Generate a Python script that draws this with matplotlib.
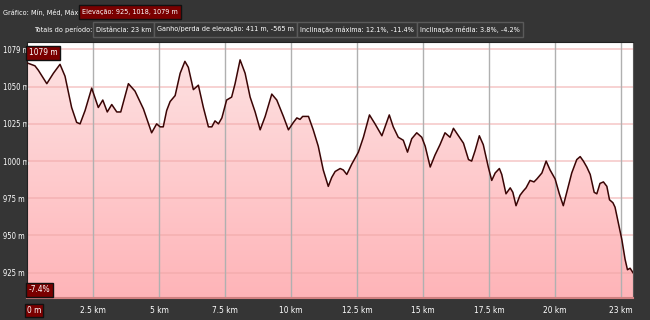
import matplotlib.pyplot as plt
import numpy as np
from matplotlib.patches import Rectangle
from matplotlib.colors import LinearSegmentedColormap

# perfil de elevação (km, m)
dist_km = [0.0, 0.30, 0.43, 0.75, 1.00, 1.25, 1.44, 1.69, 1.88, 2.01, 2.20, 2.45, 2.70, 2.87,
           3.04, 3.21, 3.40, 3.55, 3.84, 4.09, 4.41, 4.72, 4.91, 5.04, 5.16, 5.29, 5.42, 5.61,
           5.80, 5.98, 6.11, 6.30, 6.49, 6.68, 6.87, 7.00, 7.12, 7.25, 7.38, 7.56, 7.75, 7.88,
           8.07, 8.26, 8.45, 8.64, 8.83, 9.02, 9.27, 9.46, 9.71, 9.90, 10.09, 10.22, 10.34,
           10.44, 10.66, 10.84, 11.03, 11.22, 11.41, 11.54, 11.67, 11.86, 11.98, 12.11, 12.30,
           12.55, 12.74, 12.97, 13.18, 13.44, 13.56, 13.72, 13.87, 14.06, 14.25, 14.41, 14.57,
           14.76, 14.95, 15.08, 15.27, 15.45, 15.64, 15.83, 16.02, 16.15, 16.34, 16.53, 16.72,
           16.84, 16.97, 17.13, 17.28, 17.47, 17.60, 17.73, 17.89, 17.98, 18.14, 18.30, 18.40,
           18.52, 18.67, 18.80, 18.90, 19.05, 19.20, 19.31, 19.50, 19.66, 19.81, 20.00, 20.16,
           20.31, 20.44, 20.63, 20.82, 20.95, 21.07, 21.20, 21.33, 21.48, 21.58, 21.70, 21.83,
           21.96, 22.06, 22.19, 22.27, 22.40, 22.53, 22.65, 22.74, 22.84, 22.95]
elev_m = [1066, 1064, 1061, 1052, 1059, 1065, 1057, 1036, 1026, 1025, 1034, 1049, 1036, 1041,
          1033, 1038, 1033, 1033, 1052, 1047, 1035, 1019, 1025, 1023, 1023, 1034, 1040, 1044,
          1059, 1067, 1063, 1048, 1051, 1036, 1023, 1023, 1027, 1025, 1029, 1041, 1043, 1052,
          1068, 1059, 1043, 1033, 1021, 1030, 1045, 1041, 1030, 1021, 1026, 1029, 1028,
          1030, 1030, 1021, 1010, 994, 983, 989, 993, 995, 994, 991, 998,
          1006, 1016, 1031, 1025, 1017, 1023, 1031, 1023, 1016, 1014, 1006, 1015,
          1019, 1016, 1010, 996, 1004, 1011, 1019, 1016, 1022, 1017, 1012, 1001,
          1000, 1007, 1017, 1011, 996, 987, 992, 995, 991, 978, 982, 979,
          970, 977, 980, 982, 987, 986, 988, 992, 1000, 994, 988, 978,
          970, 979, 992, 1001, 1003, 1000, 996, 991, 979, 978, 985, 986,
          983, 974, 972, 969, 958, 947, 934, 927, 928, 925]

x_ticks = [0, 2.5, 5, 7.5, 10, 12.5, 15, 17.5, 20, 22.5]
x_labels = ['0 m', '2.5 km', '5 km', '7.5 km', '10 km', '12.5 km', '15 km', '17.5 km', '20 km', '23 km']
y_ticks = [925, 950, 975, 1000, 1025, 1050, 1075]
y_labels = ['925 m', '950 m', '975 m', '1000 m', '1025 m', '1050 m', '1079 m']

linha1 = ('Gráfico: Mín, Méd, Máx', ['Elevação: 925, 1018, 1079 m'])
linha2 = ('Totais do período:', ['Distância: 23 km', 'Ganho/perda de elevação: 411 m, -565 m',
                                 'Inclinação máxima: 12.1%, -11.4%', 'Inclinação média: 3.8%, -4.2%'])

plt.rcParams['font.family'] = ['DejaVu Sans']
plt.rcParams['font.stretch'] = 'condensed'

W, H = 650, 320
BG = '#353535'
RED = '#7a0000'
FS = 5.2

fig = plt.figure(figsize=(6.5, 3.2), dpi=100, facecolor=BG)
renderer = fig.canvas.get_renderer()


def px(x, y):
    return x / W, 1 - y / H


def linha_cabecalho(x_fim_rotulo, y0, y1, rotulo, textos, primeira_vermelha=False):
    yc = (y0 + y1) / 2
    fig.text(*px(x_fim_rotulo, yc), rotulo, color='white', fontsize=FS, va='center', ha='right')
    x = x_fim_rotulo + 1
    for i, texto in enumerate(textos):
        t = fig.text(*px(x + 3, yc), texto, color='white', fontsize=FS, va='center', ha='left',
                     zorder=3)
        w = t.get_window_extent(renderer).width
        vermelha = primeira_vermelha and i == 0
        r = Rectangle(px(x, y1), (w + 6) / W, (y1 - y0) / H, transform=fig.transFigure,
                      facecolor=RED if vermelha else BG,
                      edgecolor='#111111' if vermelha else '#5a5a5a', linewidth=1, zorder=2)
        fig.patches.append(r)
        x += w + 6


linha_cabecalho(78, 5, 19, linha1[0], linha1[1], primeira_vermelha=True)
linha_cabecalho(92, 22, 37, linha2[0], linha2[1])

ax = fig.add_axes([27 / W, 1 - 298 / H, (633 - 27) / W, (298 - 42) / H])
ax.set_facecolor('white')
ax.set_xlim(0, 22.95)
ax.set_ylim(908, 1080)

# preenchimento em degradê
poly = ax.fill_between(dist_km, elev_m, 908, facecolor='none', edgecolor='none')
grad = np.linspace(0, 1, 256).reshape(-1, 1)
cmap = LinearSegmentedColormap.from_list('rosa', ['#ffb4b8', '#fde4e4'])
img = ax.imshow(grad, aspect='auto', cmap=cmap, origin='lower',
                extent=[0, 22.95, 908, 1080], zorder=1)
img.set_clip_path(poly.get_paths()[0], transform=ax.transData)

for yv in y_ticks:
    ax.axhline(yv, color='#f0a8a8', lw=1.2, alpha=0.6, zorder=2)
for xv in x_ticks[1:]:
    ax.axvline(xv, color='#b0b0b0', lw=1, zorder=2)

ax.plot(dist_km, elev_m, color='#3a0505', lw=1.1, zorder=3)

ax.set_xticks(x_ticks)
ax.set_xticklabels(x_labels)
ax.set_yticks(y_ticks)
ax.set_yticklabels(y_labels)
ax.tick_params(length=0, colors='white')
ax.tick_params(axis='x', pad=6, labelsize=6)
ax.tick_params(axis='y', pad=17.5, labelsize=5.5)
for t in ax.get_yticklabels():
    t.set_horizontalalignment('left')
ax.get_xticklabels()[0].set_bbox(dict(facecolor=RED, edgecolor='#111111', pad=1.5))
ax.get_xticklabels()[0].set_horizontalalignment('left')

for s in ['top', 'left']:
    ax.spines[s].set_color('#222222')
ax.spines['right'].set_color('#555555')
ax.spines['bottom'].set_color('#d08080')
ax.spines['bottom'].set_linewidth(1.5)

ax.text(0.003, 0.975, '1079 m', transform=ax.transAxes, color='white', fontsize=6,
        va='top', ha='left', zorder=5, bbox=dict(facecolor=RED, edgecolor='#111111', pad=1.8))
ax.text(0.003, 0.015, '-7.4%', transform=ax.transAxes, color='white', fontsize=6,
        va='bottom', ha='left', zorder=5, bbox=dict(facecolor=RED, edgecolor='#111111', pad=1.8))

plt.savefig('out.png', dpi=100, facecolor=BG)
